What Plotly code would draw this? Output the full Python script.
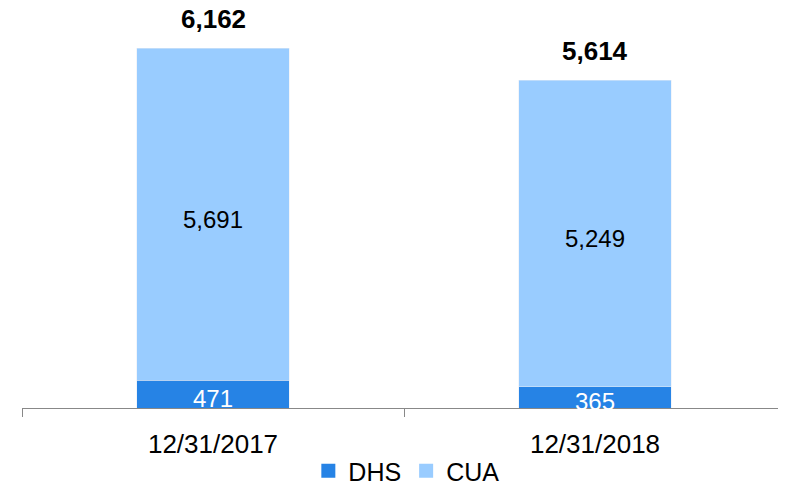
import plotly.graph_objects as go

categories = ["12/31/2017", "12/31/2018"]
dhs = [471, 365]
cua = [5691, 5249]
totals = [d + c for d, c in zip(dhs, cua)]
series_names = ["DHS", "CUA"]

DHS_COLOR = "#2683E5"
CUA_COLOR = "#99CCFF"
FONT = "Liberation Sans, Arial, sans-serif"

# the page body adds an 8px margin, so the figure is sized to fit the window
W, H = 778, 475

fig = go.Figure()
fig.add_trace(go.Bar(x=categories, y=dhs, name=series_names[0], marker_color=DHS_COLOR,
                     width=0.40, hoverinfo="skip", showlegend=False))
fig.add_trace(go.Bar(x=categories, y=cua, name=series_names[1], marker_color=CUA_COLOR,
                     width=0.40, hoverinfo="skip", showlegend=False))
# legend entries with square swatches
for nm, col in zip(series_names, [DHS_COLOR, CUA_COLOR]):
    fig.add_trace(go.Scatter(x=[None], y=[None], mode="markers", name=nm,
                             marker=dict(symbol="square", size=14, color=col),
                             showlegend=True))

annotations = []
for cat, d, c, t in zip(categories, dhs, cua, totals):
    annotations.append(dict(x=cat, y=d / 2, text=f"{d:,}", showarrow=False,
                            yshift=-4, font=dict(family=FONT, size=24, color="white")))
    annotations.append(dict(x=cat, y=d + c / 2, text=f"{c:,}", showarrow=False,
                            yshift=-5, font=dict(family=FONT, size=24, color="black")))
    annotations.append(dict(x=cat, y=t, text=f"<b>{t:,}</b>", showarrow=False,
                            yshift=29, font=dict(family=FONT, size=26, color="black")))

fig.update_layout(
    barmode="stack",
    width=W, height=H,
    margin=dict(l=14, r=0, t=0, b=75, autoexpand=False),
    paper_bgcolor="white", plot_bgcolor="white",
    font=dict(family=FONT, size=25, color="black"),
    showlegend=True,
    legend=dict(orientation="h", x=0.512, xanchor="center", xref="container",
                y=12 / H, yanchor="middle", yref="container",
                font=dict(family=FONT, size=25), itemwidth=30,
                traceorder="normal", bgcolor="rgba(0,0,0,0)"),
    annotations=annotations,
    xaxis=dict(range=[-0.5, 1.5], showline=True, linecolor="#888888", linewidth=1,
               ticks="outside", tickson="boundaries", ticklen=8, tickcolor="#888888",
               showgrid=False, tickfont=dict(family=FONT, size=26),
               automargin=False, ticklabelstandoff=13, fixedrange=True),
    yaxis=dict(range=[0, 6847], visible=False, showgrid=False, automargin=False,
               fixedrange=True),
)

fig.write_html("out.html")
